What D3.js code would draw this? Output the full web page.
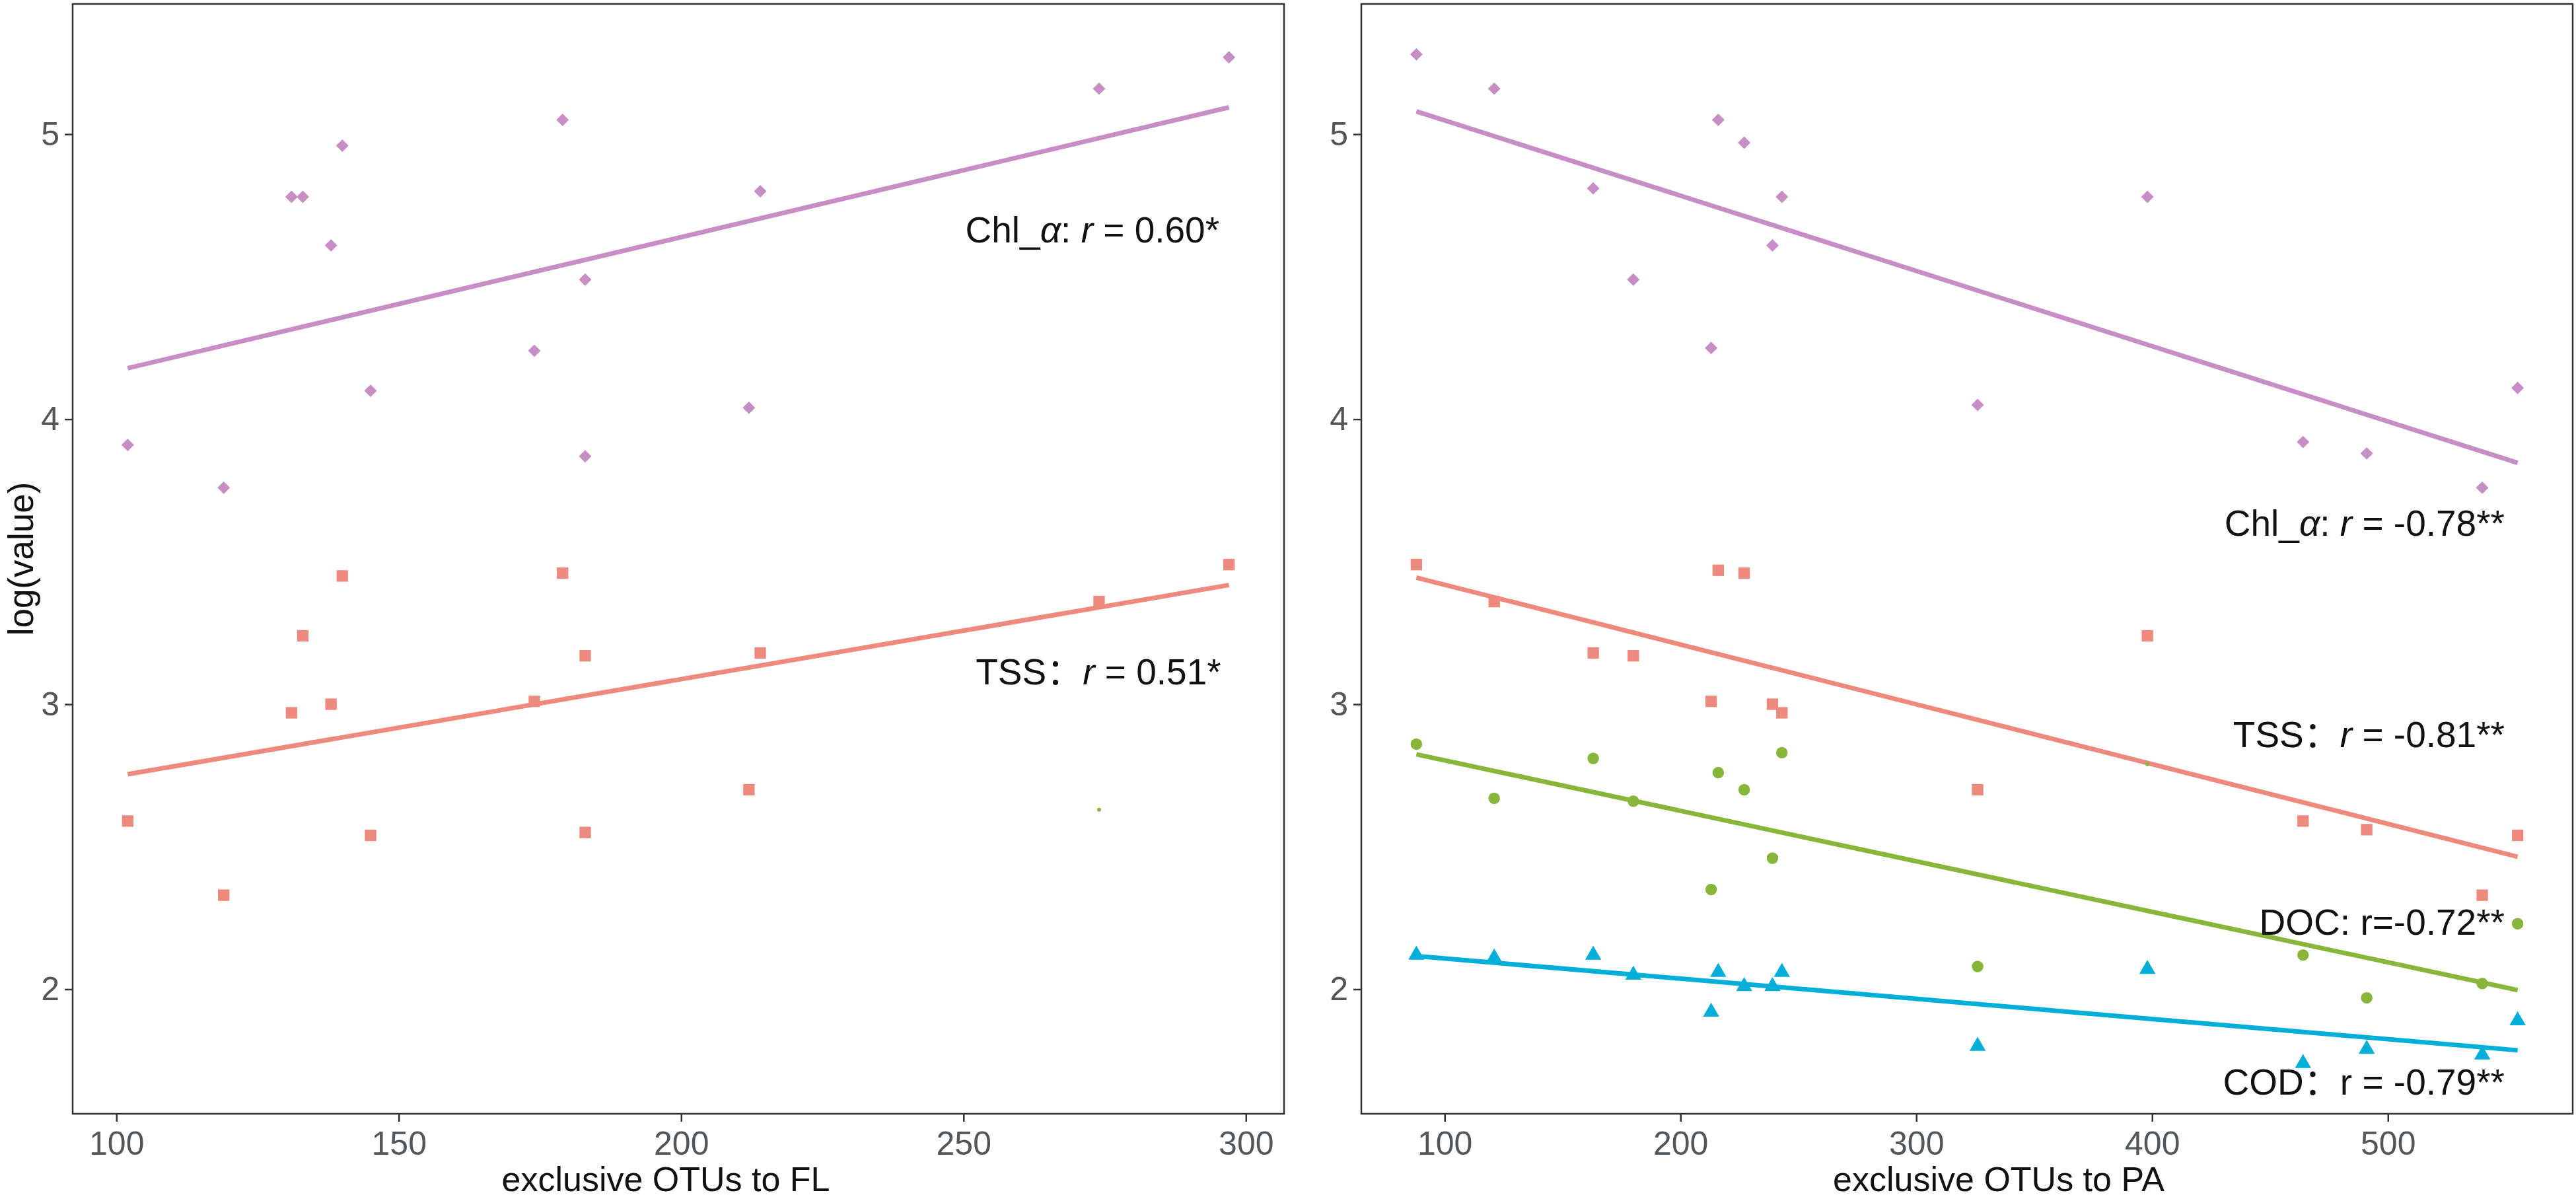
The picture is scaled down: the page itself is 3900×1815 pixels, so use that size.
<!DOCTYPE html>
<html>
<head>
<meta charset="utf-8">
<script src="https://cdn.jsdelivr.net/npm/d3@7"></script>
<style>
  body { margin: 0; background: #fff; }
  text { font-family: "Liberation Sans", Arial, "Noto Sans CJK SC", sans-serif; }
</style>
</head>
<body>
<div class="canvas"></div>
<script>
      // ---- data: left panel (exclusive OTUs to FL) ----
      const xFL   = [102, 119, 131, 133, 138, 140, 145, 174, 179, 183, 183, 212, 214, 274, 297];
      const chlFL = [3.91, 3.76, 4.78, 4.78, 4.61, 4.96, 4.10, 4.24, 5.05, 4.49, 3.87, 4.04, 4.80, 5.16, 5.27];
      const tssFL = [2.59, 2.33, 2.97, 3.24, 3.00, 3.45, 2.54, 3.01, 3.46, 3.17, 2.55, 2.70, 3.18, 3.36, 3.49];
      const tinyFLx = [274];
      const tinyFL  = [2.63];

      // ---- data: right panel (exclusive OTUs to PA) ----
      const xPA   = [88, 121, 163, 180, 213, 216, 227, 239, 243, 326, 398, 464, 491, 540, 555];
      const chlPA = [5.28, 5.16, 4.81, 4.49, 4.25, 5.05, 4.97, 4.61, 4.78, 4.05, 4.78, 3.92, 3.88, 3.76, 4.11];
      const tssPA = [3.49, 3.36, 3.18, 3.17, 3.01, 3.47, 3.46, 3.00, 2.97, 2.70, 3.24, 2.59, 2.56, 2.33, 2.54];
      const docPA = [2.86, 2.67, 2.81, 2.66, 2.35, 2.76, 2.70, 2.46, 2.83, 2.08, null, 2.12, 1.97, 2.02, 2.23];
      const codPA = [2.12, 2.11, 2.12, 2.05, 1.92, 2.06, 2.01, 2.01, 2.06, 1.80, 2.07, 1.74, 1.79, 1.77, 1.89];
      const tinyPAx = [398];
      const tinyPA  = [2.79];

      // ---- tick labels ----
      const yTicks   = [2, 3, 4, 5];
      const xTicksFL = [100, 150, 200, 250, 300];
      const xTicksPA = [100, 200, 300, 400, 500];

      // ---- annotations (anchored in data units, right aligned) ----
      const notesFL = [
        { x: 295.3, y: 4.62, parts: [['Chl_'], ['α', 1], [': '], ['r', 1], [' = 0.60*']] },
        { x: 295.6, y: 3.07, parts: [['TSS：'], ['r', 1], [' = 0.51*']] }
      ];
      const notesPA = [
        { x: 549.5, y: 3.59, parts: [['Chl_'], ['α', 1], [': '], ['r', 1], [' = -0.78**']] },
        { x: 549.5, y: 2.85, parts: [['TSS：'], ['r', 1], [' = -0.81**']] },
        { x: 549.5, y: 2.19, parts: [['DOC: r=-0.72**']] },
        { x: 549.5, y: 1.63, parts: [['COD：r = -0.79**']] }
      ];

      const colors = { chl: '#c78dc5', tss: '#ee897d', doc: '#88b63a', cod: '#00afd9' };

      const width = 3900, height = 1815;
      const panelTop = 6, panelBottom = 1686;

      const svg = d3.select('.canvas')
        .append('svg')
        .attr('width', width)
        .attr('height', height);

      // shared y scale, ggplot style 5% expansion over all values
      const allY = [].concat(chlFL, tssFL, chlPA, tssPA, docPA.filter(d => d != null), codPA);
      const yExt = d3.extent(allY);
      const yPad = (yExt[1] - yExt[0]) * 0.05;
      const y = d3.scaleLinear().domain([yExt[0] - yPad, yExt[1] + yPad]).range([panelBottom, panelTop]);

      // marker shapes
      const diamond = {
        draw(ctx, size) {
          const r = Math.sqrt(size / 2);
          ctx.moveTo(0, -r); ctx.lineTo(r, 0); ctx.lineTo(0, r); ctx.lineTo(-r, 0); ctx.closePath();
        }
      };
      const shapes = {
        chl: d3.symbol().type(diamond).size(180),
        tss: d3.symbol().type(d3.symbolSquare).size(300),
        doc: d3.symbol().type(d3.symbolCircle).size(240),
        cod: d3.symbol().type(d3.symbolTriangle).size(260)
      };

      // least squares fit over the observed x range
      const fit = (xs, ys) => {
        const pts = xs.map((v, i) => [v, ys[i]]).filter(p => p[1] != null);
        const mx = d3.mean(pts, p => p[0]), my = d3.mean(pts, p => p[1]);
        const b = d3.sum(pts, p => (p[0] - mx) * (p[1] - my)) / d3.sum(pts, p => (p[0] - mx) ** 2);
        const ext = d3.extent(pts, p => p[0]);
        return ext.map(v => [v, my + b * (v - mx)]);
      };

      const panels = [
        { left: 110, right: 1944, titleX: 1008, xs: xFL, ticks: xTicksFL, title: 'exclusive OTUs to FL', notes: notesFL,
          series: [['chl', chlFL], ['tss', tssFL]], tiny: [tinyFLx, tinyFL], ylab: true },
        { left: 2061, right: 3895, titleX: 3026, xs: xPA, ticks: xTicksPA, title: 'exclusive OTUs to PA', notes: notesPA,
          series: [['chl', chlPA], ['tss', tssPA], ['doc', docPA], ['cod', codPA]], tiny: [tinyPAx, tinyPA], ylab: false }
      ];

      panels.forEach(p => {
        const ext = d3.extent(p.xs);
        const pad = (ext[1] - ext[0]) * 0.05;
        const x = d3.scaleLinear().domain([ext[0] - pad, ext[1] + pad]).range([p.left, p.right]);

        const graph = svg.append('g');

        // axes
        const xAxis = d3.axisBottom(x).tickValues(p.ticks).tickSize(12).tickPadding(14);
        const yAxis = d3.axisLeft(y).tickValues(yTicks).tickFormat(d3.format('d')).tickSize(12).tickPadding(8);

        const xg = graph.append('g').attr('transform', `translate(0, ${panelBottom})`).call(xAxis);
        const yg = graph.append('g').attr('transform', `translate(${p.left}, 0)`).call(yAxis);

        [xg, yg].forEach(g => {
          g.select('.domain').remove();
          g.selectAll('line').attr('stroke', '#333').attr('stroke-width', 2.5);
          g.selectAll('text').attr('fill', '#50565a').style('font-size', '50px');
        });

        // panel border
        graph.append('rect')
          .attr('x', p.left).attr('y', panelTop)
          .attr('width', p.right - p.left).attr('height', panelBottom - panelTop)
          .attr('fill', 'none').attr('stroke', '#333').attr('stroke-width', 2.5);

        // regression lines
        const line = d3.line().x(d => x(d[0])).y(d => y(d[1]));
        p.series.forEach(([key, vals]) => {
          graph.append('path')
            .datum(fit(p.xs, vals))
            .attr('fill', 'none')
            .attr('stroke', colors[key])
            .attr('stroke-width', 7)
            .attr('d', line);
        });

        // points
        p.series.forEach(([key, vals]) => {
          graph.selectAll(null)
            .data(p.xs.map((v, i) => [v, vals[i]]).filter(d => d[1] != null))
            .enter()
            .append('path')
              .attr('d', shapes[key])
              .attr('transform', d => `translate(${x(d[0])}, ${y(d[1])})`)
              .attr('fill', colors[key]);
        });

        // tiny stray DOC dots
        graph.selectAll(null)
          .data(p.tiny[0].map((v, i) => [v, p.tiny[1][i]]))
          .enter()
          .append('circle')
            .attr('cx', d => x(d[0]))
            .attr('cy', d => y(d[1]))
            .attr('r', 3)
            .attr('fill', colors.doc);

        // annotations
        p.notes.forEach(n => {
          const t = graph.append('text')
            .attr('x', x(n.x)).attr('y', y(n.y))
            .attr('text-anchor', 'end')
            .attr('fill', '#111')
            .style('font-size', '55px')
            .style('white-space', 'pre');
          n.parts.forEach(([s, it]) => {
            t.append('tspan').text(s).style('font-style', it ? 'italic' : 'normal');
          });
        });

        // x title
        graph.append('text')
          .attr('x', p.titleX).attr('y', 1803)
          .attr('text-anchor', 'middle')
          .attr('fill', '#111')
          .style('font-size', '52px')
          .text(p.title);

        if (p.ylab) {
          graph.append('text')
            .attr('transform', `translate(50, ${(panelTop + panelBottom) / 2}) rotate(-90)`)
            .attr('text-anchor', 'middle')
            .attr('fill', '#111')
            .style('font-size', '53px')
            .text('log(value)');
        }
      });
</script>
</body>
</html>
